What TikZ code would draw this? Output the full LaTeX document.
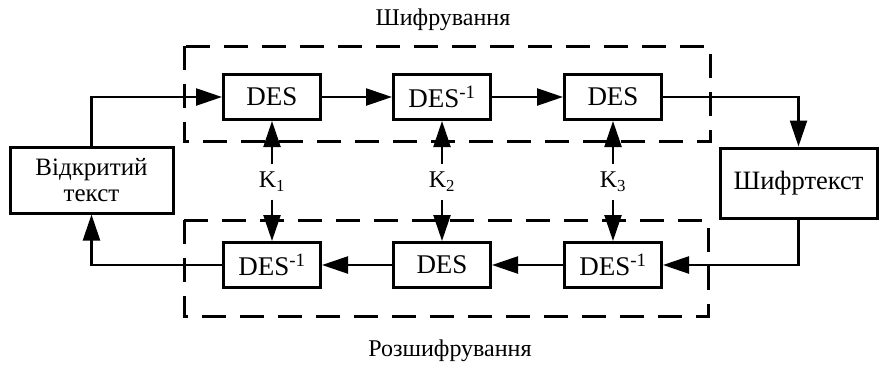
\documentclass[tikz,border=0pt]{standalone}
\usepackage{fontspec}
\setmainfont{Liberation Serif}
\usetikzlibrary{arrows.meta}
\begin{document}
\begin{tikzpicture}[x=1pt,y=-1pt,
  blk/.style={draw,line width=3pt,minimum height=45pt,minimum width=97pt,inner sep=0pt,font=\fontsize{27}{30}\selectfont},
  bigblk/.style={draw,line width=3pt,inner sep=0pt,align=center,font=\fontsize{25}{28}\selectfont},
  conn/.style={line width=2.4pt,-{Triangle[length=26pt,width=17pt]}},
  grp/.style={draw,line width=3pt,dash pattern=on 24pt off 14pt},
  klab/.style={inner sep=0pt,minimum height=35pt,font=\fontsize{24}{28}\selectfont},
  ttl/.style={inner sep=0pt,font=\fontsize{24}{28}\selectfont}]
\useasboundingbox (0,0) rectangle (879,365);
\draw[grp] (184,46) rectangle (710,141);
\draw[grp] (184,220) rectangle (708,316);
\node[ttl] (t1) at (443,20) {Шифрування};
\node[ttl] (t2) at (450,351) {Розшифрування};
\node[bigblk,minimum width=163pt,minimum height=66pt] (plain) at (91.5,180) {Відкритий\\[-2pt]текст};
\node[bigblk,minimum width=157pt,minimum height=70pt,font=\fontsize{26.5}{30}\selectfont] (cipher) at (798.5,183) {Шифртекст};
\node[blk] (e1) at (272,97) {DES};
\node[blk] (e2) at (442,97) {DES\textsuperscript{-1}};
\node[blk] (e3) at (613,97) {DES};
\node[blk] (d1) at (272,265) {DES\textsuperscript{-1}};
\node[blk] (d2) at (442,265) {DES};
\node[blk] (d3) at (613,265) {DES\textsuperscript{-1}};
\node[klab] (k1) at (272,182) {K\textsubscript{1}};
\node[klab] (k2) at (442,182) {K\textsubscript{2}};
\node[klab] (k3) at (613,182) {K\textsubscript{3}};
\draw[conn] (plain.north) |- (e1.west);
\draw[conn] (e1) -- (e2);
\draw[conn] (e2) -- (e3);
\draw[conn] (e3.east) -| (cipher.north);
\draw[conn] (cipher.south) |- (d3.east);
\draw[conn] (d3) -- (d2);
\draw[conn] (d2) -- (d1);
\draw[conn] (d1.west) -| (plain.south);
\foreach \k/\a/\b in {k1/e1/d1,k2/e2/d2,k3/e3/d3}{
  \draw[conn] (\k.north) -- (\a.south);
  \draw[conn] (\k.south) -- (\b.north);
}
\end{tikzpicture}
\end{document}
